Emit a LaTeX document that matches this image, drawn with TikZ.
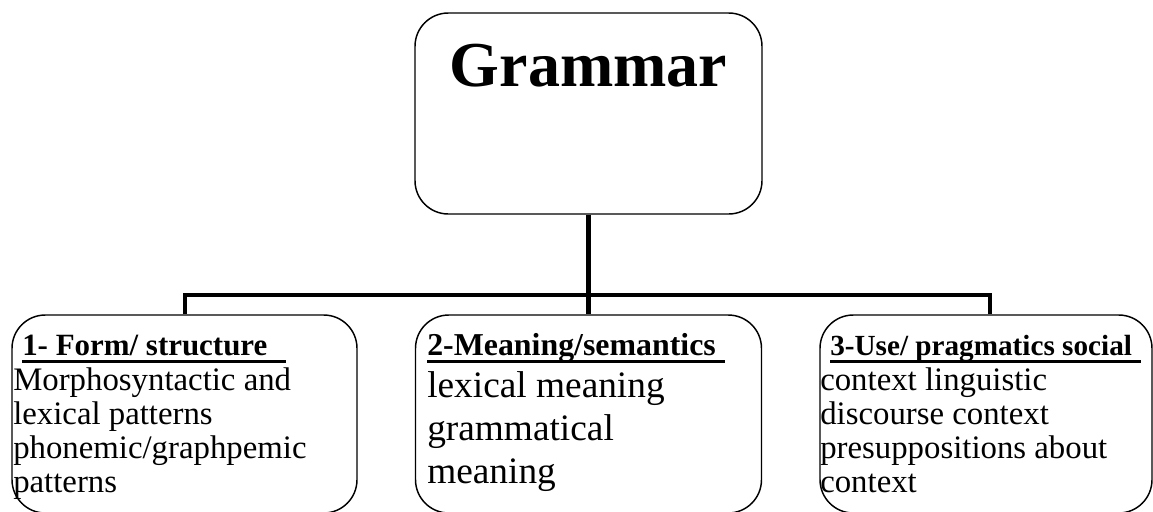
\documentclass[tikz,border=0pt]{standalone}
\usepackage{fontspec}
\setmainfont{Liberation Serif}
\begin{document}
\begin{tikzpicture}[x=0.75pt,y=-0.75pt,
  box/.style={draw, line width=1.1pt, rounded corners=25pt, inner sep=0pt},
  conn/.style={line width=3.6pt},
  hd/.style={anchor=base west, inner sep=0pt, font=\fontsize{23.2}{28}\selectfont\bfseries},
  bd/.style={anchor=base west, inner sep=0pt, font=\fontsize{24.6}{26}\selectfont},
  bdl/.style={anchor=base west, inner sep=0pt, font=\fontsize{28}{32}\selectfont},
  ul/.style={line width=2.3pt}]
\useasboundingbox (0,0) rectangle (1153,511);
\clip (0,0) rectangle (1153,511);
% boxes
\node[box, minimum width=260.25pt, minimum height=150.75pt] (top) at (588.5,113.5) {};
\node[box, minimum width=258.75pt, minimum height=148.5pt] (b1) at (184.5,414) {};
\node[box, minimum width=259.5pt, minimum height=148.5pt] (b2) at (588.5,414) {};
\node[box, minimum width=249pt, minimum height=148.5pt] (b3) at (986,414) {};
% connectors
\coordinate (barL) at (185,295);
\coordinate (barR) at (990,295);
\draw[conn] (top.south) -- (b2.north);
\draw[conn] (barL |- b1.north) -- (barL) -- (barR) -- (barR |- b3.north);
% title
\node[anchor=base, inner sep=0pt, font=\fontsize{48}{50}\selectfont\bfseries] (title) at (588.5,86) {Grammar};
% box 1
\node[hd] (h1) at (22,355) {1- Form/ structure};
\draw[ul] ([yshift=-4.8pt]h1.base west) -- ++(264,0);
\node[bd] (t11) at (13,390) {Morphosyntactic and};
\node[bd] (t12) at (13,424) {lexical patterns};
\node[bd] (t13) at (13,458) {phonemic/graphpemic};
\node[bd] (t14) at (13,492) {patterns};
% box 2
\node[hd, font=\fontsize{23.9}{28}\selectfont\bfseries] (h2) at (427,355) {2-Meaning/semantics};
\draw[ul] ([yshift=-4.8pt]h2.base west) -- ++(298,0);
\node[bdl] (t21) at (427,397) {lexical meaning};
\node[bdl] (t22) at (427,440) {grammatical};
\node[bdl] (t23) at (427,483) {meaning};
% box 3
\node[hd, font=\fontsize{21.9}{28}\selectfont\bfseries] (h3) at (830,355) {3-Use/ pragmatics social};
\draw[ul] ([yshift=-4.8pt]h3.base west) -- ++(311,0);
\node[bd] (t31) at (820,390) {context linguistic};
\node[bd] (t32) at (820,424) {discourse context};
\node[bd] (t33) at (820,458) {presuppositions about};
\node[bd] (t34) at (820,492) {context};
\end{tikzpicture}
\end{document}
